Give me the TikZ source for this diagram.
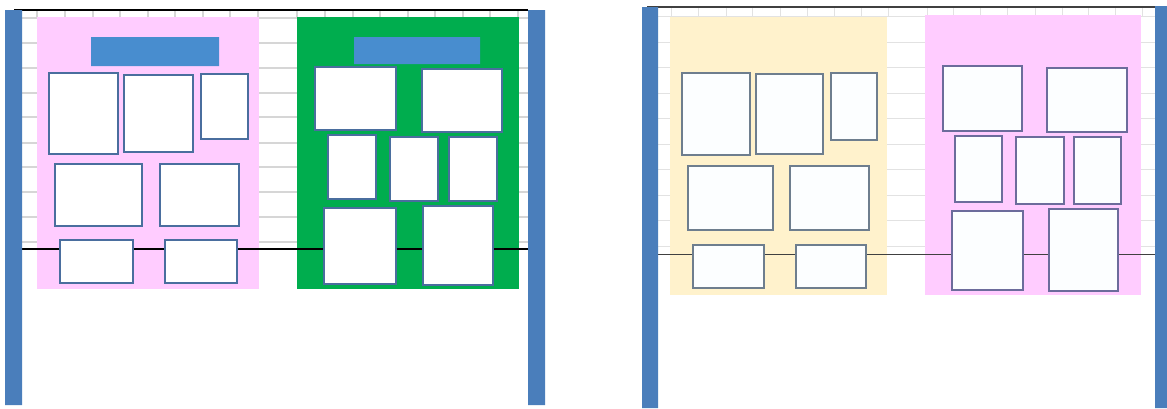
\documentclass[tikz,border=0pt]{standalone}
\usepackage{tikz}

\definecolor{postblue}{HTML}{4A7EBB}
\definecolor{titleblue}{HTML}{488DCF}
\definecolor{boardpink}{HTML}{FFCCFF}
\definecolor{boardgreen}{HTML}{00AD4E}
\definecolor{boardyellow}{HTML}{FFF2CC}
\definecolor{gridgray}{HTML}{D6D6D6}
\definecolor{frameblue}{HTML}{4A6E9E}
\definecolor{framegray}{HTML}{6E7E8E}
\definecolor{framepurple}{HTML}{6C6C9C}

\begin{document}
\begin{tikzpicture}[x=1pt,y=-1pt,line join=miter,
    post/.style={fill=postblue},
    gridline/.style={draw=gridgray,line width=1.6pt},
    rail/.style={draw=black,line width=1.8pt},
    titlebar/.style={fill=titleblue},
    frame/.style={draw=frameblue,fill=white,line width=1.4pt},
    fadedframe/.style={draw=framegray,fill=white!99!cyan,line width=1.3pt}]
	
	\useasboundingbox (0,0) rectangle (1167,408);
	
	% left wall
	\foreach \y in {18,43,68,93,117,143,167,192,217,242}
		\draw[gridline] (22,\y)--(528,\y);
	\foreach \x in {37,65,93,120,148,175,203,230,258,297,325,353,380,408,435,463,490,518}
		\draw[gridline] (\x,10)--(\x,18);
	\draw[rail] (14,10)--(528,10);
	\fill[boardpink] (37,17) rectangle (259,289);
	\fill[boardgreen] (297,17) rectangle (519,289);
	\draw[rail] (22,249)--(528,249);
	\fill[titlebar] (91,37) rectangle (219,66) (354,37) rectangle (480,64);
	\foreach \a/\b/\c/\d in {49/73/118/154, 124/75/193/152, 201/74/248/139,
		55/164/142/226, 160/164/239/226, 60/240/133/283, 165/240/237/283,
		315/67/396/130, 422/69/502/132, 328/135/376/199, 390/137/438/201,
		449/137/497/201, 324/208/396/284, 423/206/493/285}
		\draw[frame] (\a,\b) rectangle (\c,\d);
	\fill[post] (5,10) rectangle (22,405) (528,10) rectangle (545,405);
	
	% right wall
	\foreach \y in {16,42,67,93,118,144,169,195,220,246}
		\draw[gridline,line width=1pt,draw=gridgray!70] (658,\y)--(1155,\y);
	\foreach \x in {671,698,726,752,780,807,834,861,888,927,953,980,1007,1035,1062,1088,1115,1142}
		\draw[gridline,line width=1pt,draw=gridgray!70] (\x,7)--(\x,16);
	\draw[draw=black!75,line width=1.3pt] (647,7)--(1155,7);
	\fill[boardyellow] (670,17) rectangle (887,295);
	\fill[boardpink] (925,15) rectangle (1141,295);
	\draw[draw=black!75,line width=1pt] (658,254)--(1155,254);
	\foreach \a/\b/\c/\d in {682/73/750/155, 756/74/823/154, 831/73/877/140,
		688/166/773/230, 790/166/869/230, 693/245/764/288, 796/245/866/288}
		\draw[fadedframe] (\a,\b) rectangle (\c,\d);
	\foreach \a/\b/\c/\d in {943/66/1022/131, 1047/68/1127/132, 955/136/1002/202,
		1016/137/1064/204, 1074/137/1121/204, 952/211/1023/290, 1049/209/1118/291}
		\draw[fadedframe,draw=framepurple] (\a,\b) rectangle (\c,\d);
	\fill[post] (642,7) rectangle (658,408) (1155,6) rectangle (1167,408);
	
\end{tikzpicture}
\end{document}
